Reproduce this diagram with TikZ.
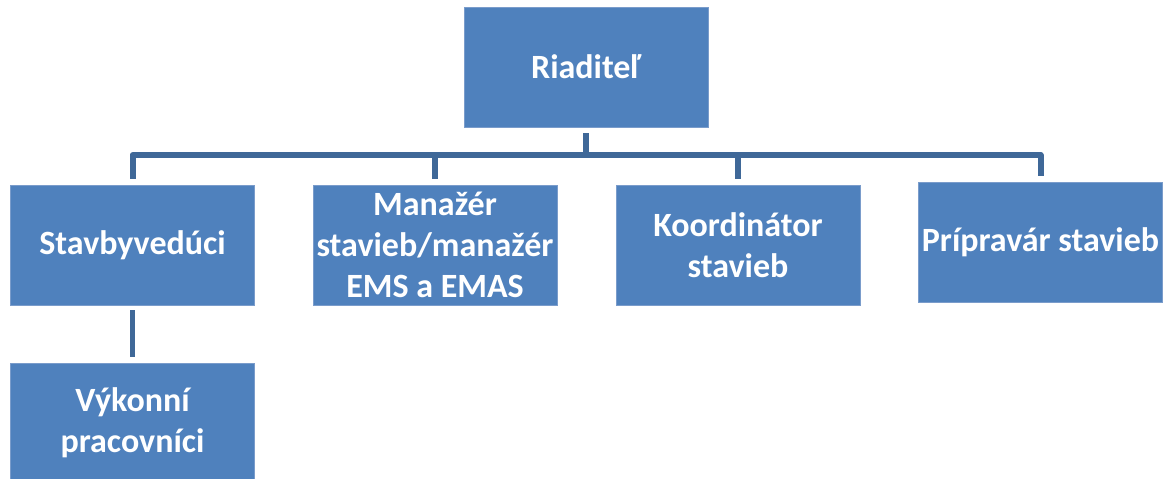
\documentclass[tikz,border=0pt]{standalone}
\usepackage{fontspec}
\setmainfont{Carlito}
\definecolor{boxfill}{HTML}{4F81BD}
\definecolor{boxedge}{HTML}{7A9CCB}
\definecolor{connc}{HTML}{3F6898}
\tikzset{
  orgbox/.style={rectangle, fill=boxfill, draw=boxedge, line width=0.8pt,
    minimum width=244pt, minimum height=120pt, inner sep=0pt,
    text=white, align=center, font=\bfseries\fontsize{34}{41}\selectfont},
  conn/.style={draw=connc, line width=6pt, line join=round}
}
\begin{document}
\begin{tikzpicture}[x=1pt,y=-1pt]
\useasboundingbox (0,0) rectangle (1167,479);
\fill[white] (0,0) rectangle (1167,479);
\node[orgbox] (root) at (586,67) {Riaditeľ};
\node[orgbox] (stav) at (132.5,245) {Stavbyvedúci};
\node[orgbox] (man) at (435,245) {Manažér\\stavieb/manažér\\EMS a EMAS};
\node[orgbox] (koor) at (738,245) {Koordinátor\\stavieb};
\node[orgbox] (prip) at (1040.5,242) {Prípravár stavieb};
\node[orgbox] (vyk) at (132.5,423) {Výkonní\\pracovníci};
\coordinate (bar) at (0,155);
\draw[conn] ([yshift=6pt]stav.north) -- (stav.north |- bar) -- (prip.north |- bar) -- ([yshift=6pt]prip.north);
\draw[conn] ([yshift=-6pt]root.south) -- (root.south |- bar);
\draw[conn] (man.north |- bar) -- ([yshift=6pt]man.north);
\draw[conn] (koor.north |- bar) -- ([yshift=6pt]koor.north);
\draw[conn, line width=5pt] ([yshift=-5pt]stav.south) -- ([yshift=6pt]vyk.north);
\end{tikzpicture}
\end{document}
